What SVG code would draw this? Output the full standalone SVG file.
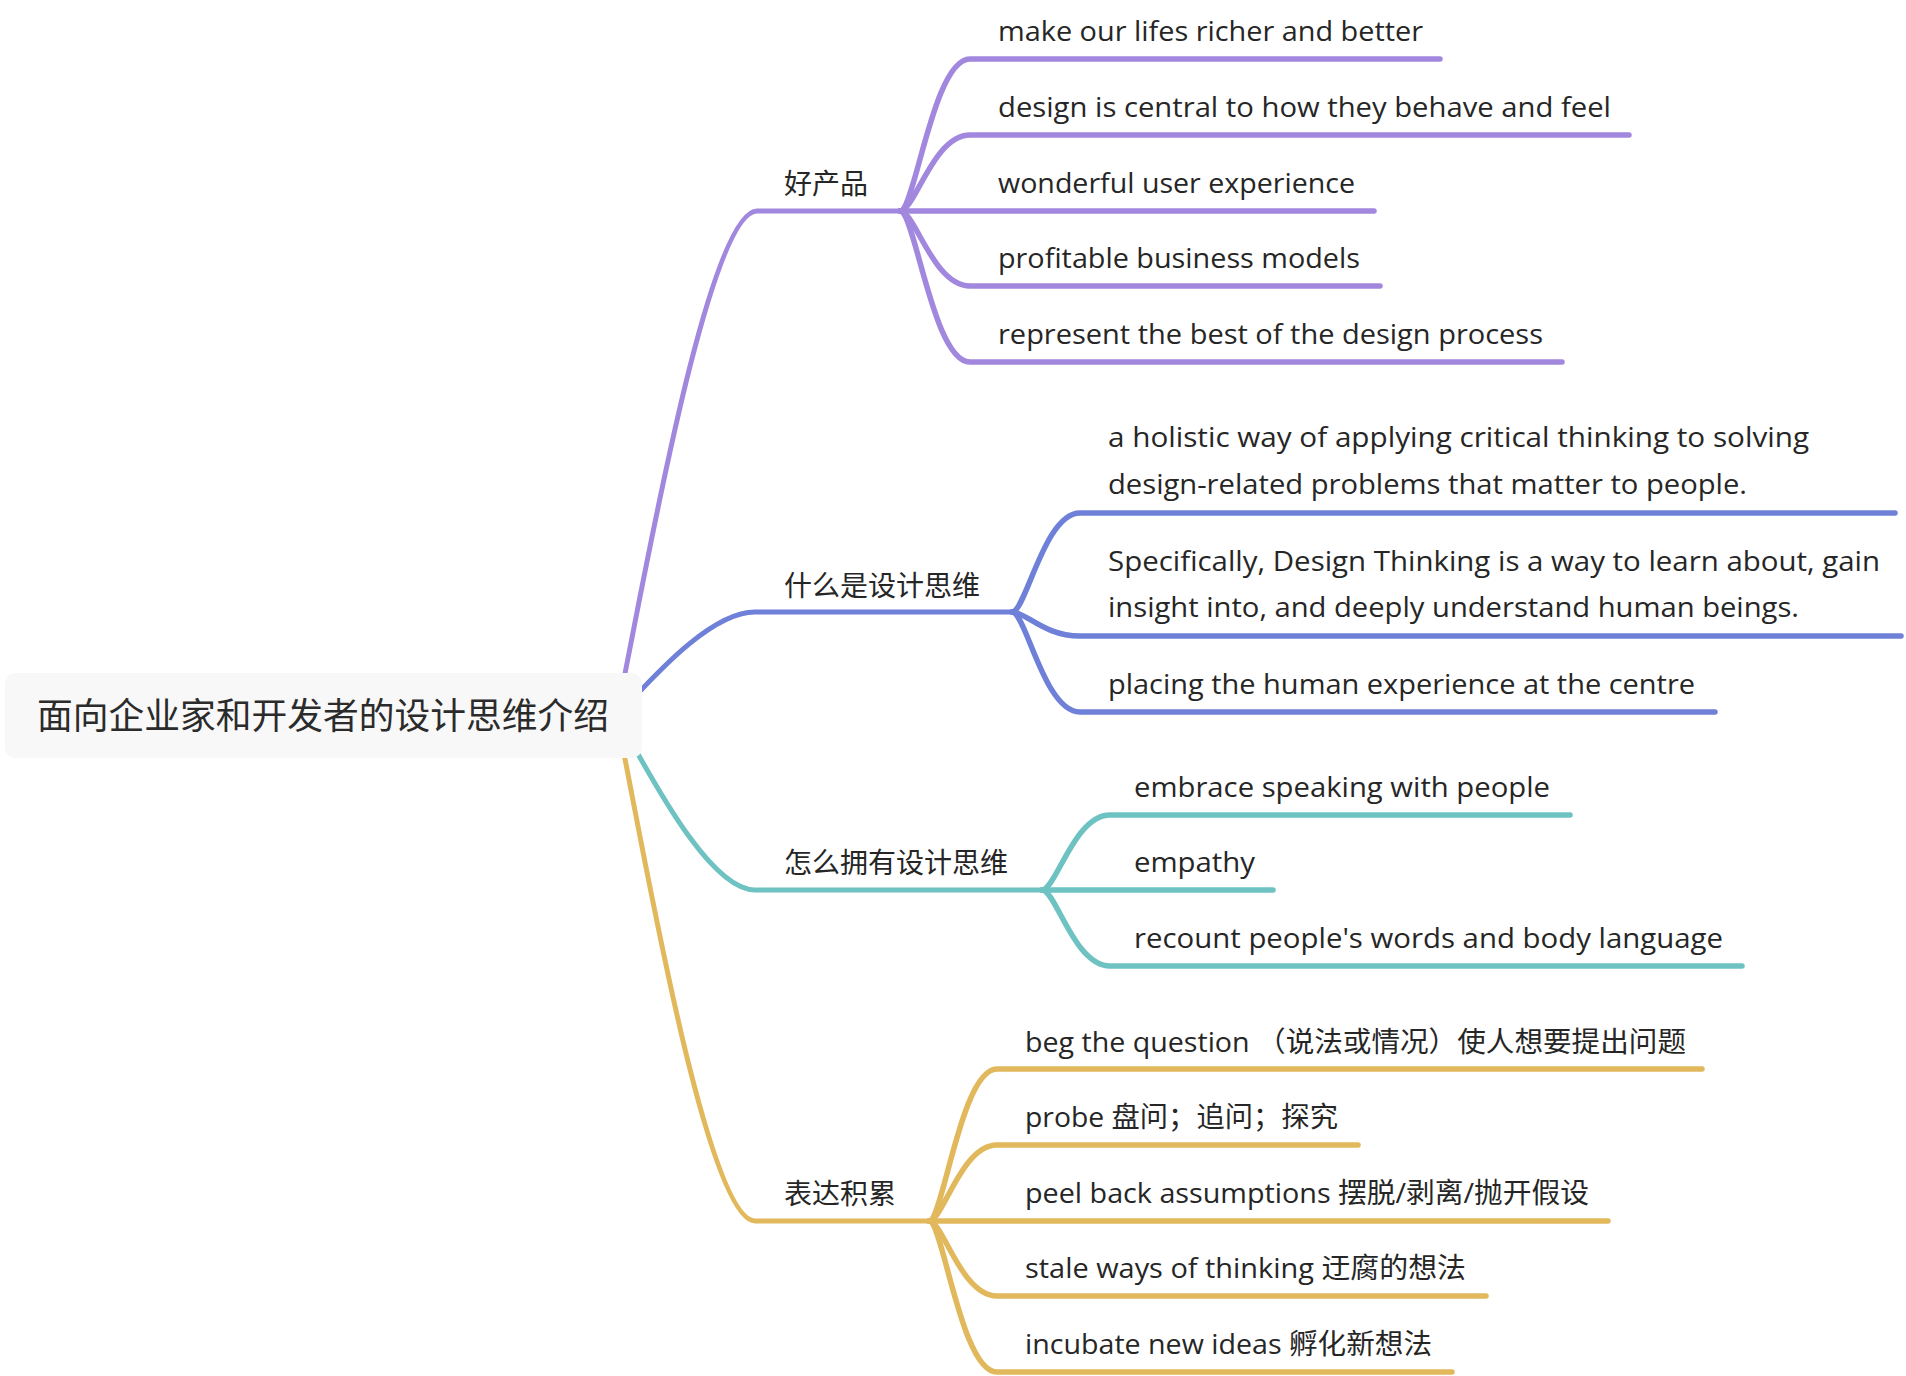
<svg xmlns="http://www.w3.org/2000/svg" width="1906" height="1376" viewBox="0 0 1906 1376">
<style>
  .c { fill: none; stroke-linecap: round; stroke-linejoin: round; }
  .root { stroke-width: 5; }
  .leaf { stroke-width: 5.5; }
  .p { stroke: #A287DE; }
  .b { stroke: #6F80D8; }
  .t { stroke: #6EC2C2; }
  .g { stroke: #E2B85C; }
  text { font-family: "Open Sans", "Noto Sans CJK SC", sans-serif; fill: #262626; font-size: 28px; }
  .rt { font-size: 36px; fill: #2b2b2b; }
</style>
<rect width="1906" height="1376" fill="#ffffff"/>
<g id="connectors">
  <path class="c root p" d="M615 716 C622 716, 700 211, 757 211 L900 211"/>
  <path class="c root b" d="M615 716 C622 716, 699 612, 755 612 L1012 612"/>
  <path class="c root t" d="M615 716 C622 716, 699 890, 755 890 L1042 890"/>
  <path class="c root g" d="M615 716 C622 716, 699 1221, 755 1221 L929 1221"/>

  <path class="c leaf p" d="M900 211 C915 211, 933 59, 970 59 L1440 59"/>
  <path class="c leaf p" d="M900 211 C915 211, 933 135, 970 135 L1629 135"/>
  <path class="c leaf p" d="M900 211 L1374 211"/>
  <path class="c leaf p" d="M900 211 C915 211, 933 286, 970 286 L1380 286"/>
  <path class="c leaf p" d="M900 211 C915 211, 933 362, 970 362 L1562 362"/>

  <path class="c leaf b" d="M1012 612 C1026 612, 1044 513, 1080 513 L1895 513"/>
  <path class="c leaf b" d="M1012 612 C1026 612, 1044 636, 1080 636 L1901 636"/>
  <path class="c leaf b" d="M1012 612 C1026 612, 1044 712, 1080 712 L1715 712"/>

  <path class="c leaf t" d="M1042 890 C1056 890, 1074 815, 1110 815 L1570 815"/>
  <path class="c leaf t" d="M1042 890 L1273 890"/>
  <path class="c leaf t" d="M1042 890 C1056 890, 1074 966, 1110 966 L1742 966"/>

  <path class="c leaf g" d="M929 1221 C943 1221, 961 1069, 997 1069 L1702 1069"/>
  <path class="c leaf g" d="M929 1221 C943 1221, 961 1145, 997 1145 L1358 1145"/>
  <path class="c leaf g" d="M929 1221 L1608 1221"/>
  <path class="c leaf g" d="M929 1221 C943 1221, 961 1296, 997 1296 L1486 1296"/>
  <path class="c leaf g" d="M929 1221 C943 1221, 961 1372, 997 1372 L1452 1372"/>
</g>

<g id="root">
  <rect x="5" y="673" width="637" height="85" rx="10" ry="10" fill="#f8f8f8"/>
  <text class="rt" x="37" y="729" textLength="572" lengthAdjust="spacingAndGlyphs">面向企业家和开发者的设计思维介绍</text>
</g>

<g id="branch-1">
  <text x="784" y="194">好产品</text>
</g>
<g id="leaf-1-1"><text x="998" y="41" textLength="425" lengthAdjust="spacingAndGlyphs">make our lifes richer and better</text></g>
<g id="leaf-1-2"><text x="998" y="117" textLength="613" lengthAdjust="spacingAndGlyphs">design is central to how they behave and feel</text></g>
<g id="leaf-1-3"><text x="998" y="193" textLength="357" lengthAdjust="spacingAndGlyphs">wonderful user experience</text></g>
<g id="leaf-1-4"><text x="998" y="268" textLength="362" lengthAdjust="spacingAndGlyphs">profitable business models</text></g>
<g id="leaf-1-5"><text x="998" y="344" textLength="545" lengthAdjust="spacingAndGlyphs">represent the best of the design process</text></g>

<g id="branch-2">
  <text x="784" y="596">什么是设计思维</text>
</g>
<g id="leaf-2-1">
  <text x="1108" y="447" textLength="701" lengthAdjust="spacingAndGlyphs">a holistic way of applying critical thinking to solving</text>
  <text x="1108" y="494" textLength="639" lengthAdjust="spacingAndGlyphs">design-related problems that matter to people.</text>
</g>
<g id="leaf-2-2">
  <text x="1108" y="571" textLength="772" lengthAdjust="spacingAndGlyphs">Specifically, Design Thinking is a way to learn about, gain</text>
  <text x="1108" y="617" textLength="691" lengthAdjust="spacingAndGlyphs">insight into, and deeply understand human beings.</text>
</g>
<g id="leaf-2-3"><text x="1108" y="694" textLength="587" lengthAdjust="spacingAndGlyphs">placing the human experience at the centre</text></g>

<g id="branch-3">
  <text x="784" y="873">怎么拥有设计思维</text>
</g>
<g id="leaf-3-1"><text x="1134" y="797" textLength="416" lengthAdjust="spacingAndGlyphs">embrace speaking with people</text></g>
<g id="leaf-3-2"><text x="1134" y="872" textLength="121" lengthAdjust="spacingAndGlyphs">empathy</text></g>
<g id="leaf-3-3"><text x="1134" y="948" textLength="589" lengthAdjust="spacingAndGlyphs">recount people's words and body language</text></g>

<g id="branch-4">
  <text x="784" y="1204">表达积累</text>
</g>
<g id="leaf-4-1"><text x="1025" y="1052" textLength="661" lengthAdjust="spacingAndGlyphs">beg the question （说法或情况）使人想要提出问题</text></g>
<g id="leaf-4-2"><text x="1025" y="1127" textLength="313" lengthAdjust="spacingAndGlyphs">probe 盘问；追问；探究</text></g>
<g id="leaf-4-3"><text x="1025" y="1203" textLength="564" lengthAdjust="spacingAndGlyphs">peel back assumptions 摆脱/剥离/抛开假设</text></g>
<g id="leaf-4-4"><text x="1025" y="1278" textLength="441" lengthAdjust="spacingAndGlyphs">stale ways of thinking 迂腐的想法</text></g>
<g id="leaf-4-5"><text x="1025" y="1354" textLength="407" lengthAdjust="spacingAndGlyphs">incubate new ideas 孵化新想法</text></g>
</svg>
